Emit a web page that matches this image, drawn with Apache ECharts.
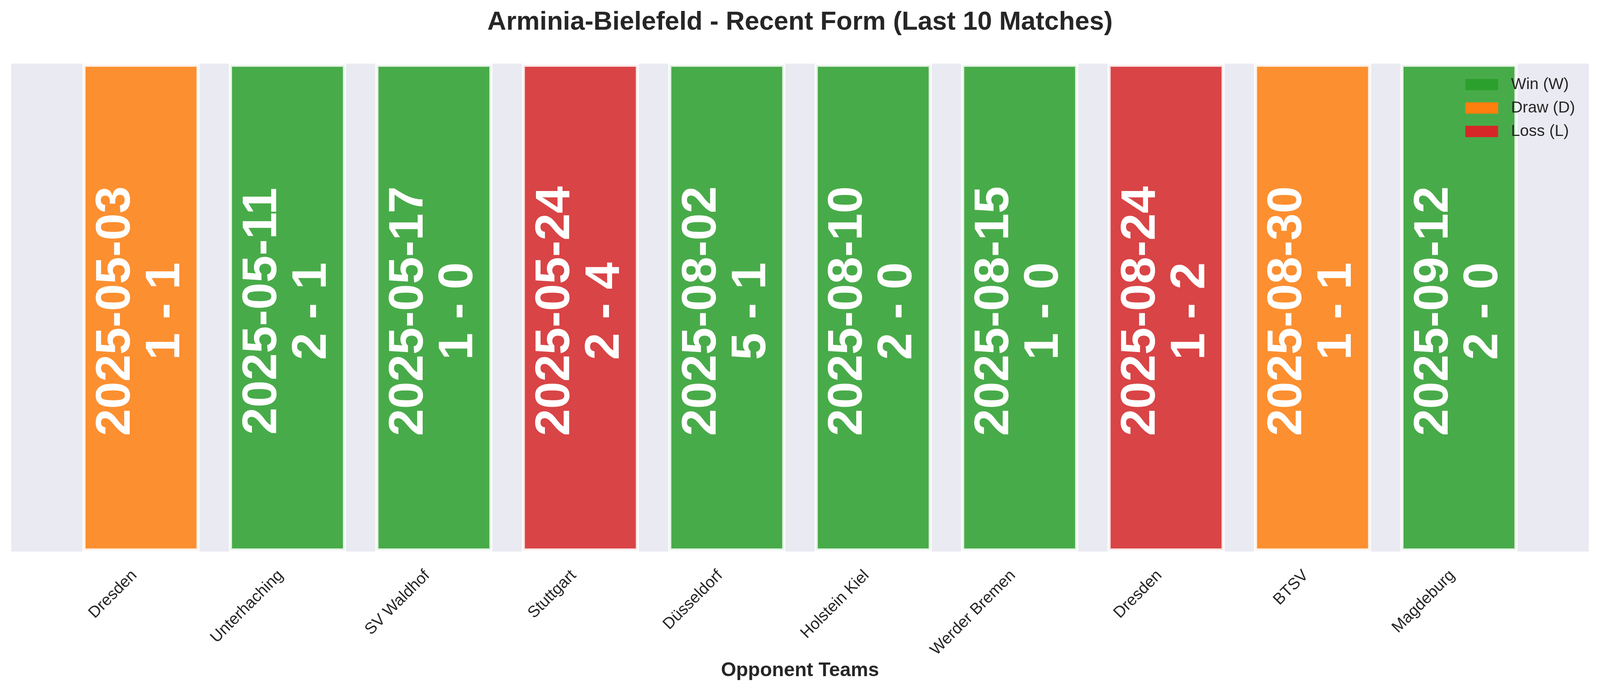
<!DOCTYPE html>
<html>
<head>
<meta charset="utf-8">
<script src="https://cdn.jsdelivr.net/npm/echarts@6/dist/echarts.min.js"></script>
<style>
  html, body { margin: 0; padding: 0; background: #fff; overflow: hidden; }
  #main { width: 100vw; height: 1769px; }
</style>
</head>
<body>
<div id="main"></div>
<script>
// last 10 matches, oldest first
var teams = ['Dresden', 'Unterhaching', 'SV Waldhof', 'Stuttgart', 'Düsseldorf',
             'Holstein Kiel', 'Werder Bremen', 'Dresden', 'BTSV', 'Magdeburg'];
var dates = ['2025-05-03', '2025-05-11', '2025-05-17', '2025-05-24', '2025-08-02',
             '2025-08-10', '2025-08-15', '2025-08-24', '2025-08-30', '2025-09-12'];
var scores = ['1 - 1', '2 - 1', '1 - 0', '2 - 4', '5 - 1', '2 - 0', '1 - 0', '1 - 2', '1 - 1', '2 - 0'];
var results = ['D', 'W', 'W', 'L', 'W', 'W', 'W', 'L', 'D', 'W'];
var heights = [1, 1, 1, 1, 1, 1, 1, 1, 1, 1];

var resultTypes = ['W', 'D', 'L'];
var resultNames = ['Win (W)', 'Draw (D)', 'Loss (L)'];
var resultColors = ['#2ca02c', '#ff7f0e', '#d62728'];

var font = 'Liberation Sans, Arial, sans-serif';
var el = document.getElementById('main');
// the layout was measured on a 4170 px wide figure, stretch it to the real width
var sx = el.clientWidth / 4170;
var chart = echarts.init(el);

function seriesFor(k) {
    var data = [];
    results.forEach(function (r, i) {
        if (r === resultTypes[k]) data.push([i, heights[i]]);
    });
    return {
        name: resultNames[k],
        type: 'bar',
        data: data,
        barWidth: '80%',
        barGap: '-100%',
        clip: true,
        itemStyle: {
            color: resultColors[k],
            opacity: 0.85,
            borderColor: '#ffffff',
            borderWidth: 8
        },
        label: {
            show: true,
            position: 'inside',
            rotate: 90,
            offset: [-9, 0],
            color: '#ffffff',
            opacity: 1,
            fontFamily: font,
            fontWeight: 'bold',
            fontSize: 125,
            lineHeight: 127,
            formatter: function (p) {
                var i = p.value[0];
                return dates[i] + '\n' + scores[i];
            }
        },
        emphasis: { disabled: true }
    };
}

chart.setOption({
    animation: false,
    backgroundColor: '#ffffff',
    title: {
        text: 'Arminia-Bielefeld - Recent Form (Last 10 Matches)',
        left: 'center',
        top: 24,
        padding: 0,
        textStyle: { fontFamily: font, fontSize: 67, fontWeight: 'bold', color: '#262626' }
    },
    legend: {
        orient: 'vertical',
        left: 3819 * sx,
        top: 196,
        padding: 0,
        itemWidth: 84,
        itemHeight: 29,
        itemGap: 19,
        icon: 'rect',
        textStyle: { fontFamily: font, fontSize: 41, lineHeight: 41, color: '#262626', padding: [0, 0, 0, 28] },
        data: resultNames.map(function (n, k) {
            return { name: n, itemStyle: { color: resultColors[k], opacity: 1, borderWidth: 0 } };
        })
    },
    grid: {
        left: 29 * sx, right: 29 * sx, top: 163, bottom: 357,
        show: true,
        backgroundColor: '#EAEAF2',
        borderWidth: 0,
        containLabel: false,
        outerBoundsMode: 'none'
    },
    xAxis: {
        type: 'value',
        min: -0.887,
        max: 9.887,
        name: 'Opponent Teams',
        nameLocation: 'middle',
        nameGap: 274,
        nameTextStyle: { fontFamily: font, fontSize: 50, fontWeight: 'bold', color: '#262626' },
        axisLine: { show: false },
        axisTick: { show: false },
        splitLine: { show: false },
        axisLabel: {
            customValues: teams.map(function (t, i) { return i; }),
            rotate: 45,
            margin: 38,
            padding: [0, 24, 0, 0],
            fontFamily: font,
            fontSize: 41,
            color: '#262626',
            formatter: function (v) { return teams[v]; }
        }
    },
    yAxis: {
        type: 'value',
        min: 0,
        max: 1,
        show: false
    },
    series: [seriesFor(0), seriesFor(1), seriesFor(2)]
});
</script>
</body>
</html>
